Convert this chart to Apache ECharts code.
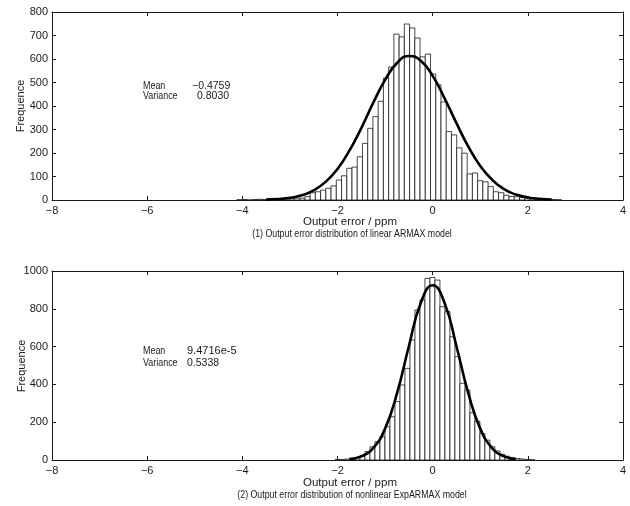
<!DOCTYPE html>
<html>
<head>
<meta charset="utf-8">
<script src="https://cdn.jsdelivr.net/npm/echarts@6/dist/echarts.min.js"></script>
<style>
  html, body { margin: 0; padding: 0; background: #fff; }
  #chart { width: 630px; height: 506px; }
</style>
</head>
<body>
<div id="chart"></div>
<script>
// 上图: 线性 ARMAX 模型输出误差直方图
const topBinStart = -4.06
const topBinWidth = 0.11
const topCounts = [
  1, 2, 0, 2, 3, 2, 4, 5, 4, 7, 6, 8,
  8, 14, 31, 35, 42, 50, 60, 85, 103, 135, 140, 184,
  241, 305, 355, 420, 519, 566, 706, 694, 749, 732, 689, 609,
  621, 536, 490, 417, 291, 277, 222, 199, 111, 115, 82, 77,
  57, 35, 31, 20, 15, 14, 10, 8, 6, 5, 3, 3, 2, 1
]
const topCurveX = [-3.5, -3.25, -3, -2.75, -2.5, -2.25, -2, -1.75, -1.5, -1.25, -1, -0.75, -0.5,
  -0.25, 0, 0.25, 0.5, 0.75, 1, 1.25, 1.5, 1.75, 2, 2.25, 2.5]
const topCurveY = [1.5, 4, 9, 20, 41, 77, 132, 210, 306, 413, 511, 583, 613,
  593, 528, 433, 327, 227, 145, 86, 46, 23, 11, 5, 2]

// 下图: 非线性 ExpARMAX 模型输出误差直方图
const botBinStart = -2.0
const botBinWidth = 0.105
const botCounts = [
  2, 3, 5, 8, 14, 22, 45, 70, 97, 123, 176, 229, 309, 397, 485, 635,
  794, 847, 961, 966, 952, 811, 785, 652, 547, 406, 370, 250, 205, 140,
  105, 70, 48, 30, 20, 12, 8, 5, 3, 1
]
const botCurveX = [-1.75, -1.5, -1.25, -1, -0.75, -0.5, -0.25, 0, 0.25, 0.5, 0.75, 1, 1.25, 1.5, 1.75]
const botCurveY = [5, 19, 63, 166, 352, 602, 831, 925, 831, 602, 352, 166, 63, 19, 5]

const xTicksMin = -8
const xTicksMax = 4

const font = 'Liberation Sans, Arial, sans-serif'
const ink = '#1a1a1a'

const toPairs = (start, width, counts) => counts.map((v, i) => [start + i * width, v])
const zip = (xs, ys) => xs.map((x, i) => [x, ys[i]])

const barRenderer = (width) => (params, api) => {
  const c = api.value(0)
  const v = api.value(1)
  const p0 = api.coord([c - width / 2, v])
  const p1 = api.coord([c + width / 2, 0])
  return {
    type: 'rect',
    shape: { x: p0[0], y: p0[1], width: p1[0] - p0[0], height: p1[1] - p0[1] },
    style: { fill: '#fff', stroke: ink, lineWidth: 0.8 }
  }
}

const minus = (v) => String(v).replace('-', '\u2212')

const axisLine = { show: true, onZero: false, lineStyle: { color: ink, width: 1 } }
const tick = { show: true, inside: true, length: 4, lineStyle: { color: ink } }
const label = { color: ink, fontFamily: font, fontSize: 11 }

const mainX = (gi) => ({
  type: 'value', gridIndex: gi, min: xTicksMin, max: xTicksMax, interval: 2,
  axisLine, axisTick: tick, splitLine: { show: false },
  axisLabel: { ...label, margin: 5, formatter: minus }
})
const mirrorX = (gi) => ({
  type: 'value', gridIndex: gi, position: 'top', min: xTicksMin, max: xTicksMax, interval: 2,
  axisLine, axisTick: tick, splitLine: { show: false }, axisLabel: { show: false }
})
const mainY = (gi, max, interval) => ({
  type: 'value', gridIndex: gi, min: 0, max, interval,
  axisLine, axisTick: tick, splitLine: { show: false },
  axisLabel: { ...label, margin: 4, formatter: (v) => String(v) }
})
const mirrorY = (gi, max, interval) => ({
  type: 'value', gridIndex: gi, position: 'right', min: 0, max, interval,
  axisLine, axisTick: tick, splitLine: { show: false }, axisLabel: { show: false }
})

const txt = (x, y, text, size, align, sx) => ({
  type: 'text', x, y, scaleX: sx || 1,
  style: { text, fill: ink, font: size + 'px ' + font, textAlign: align || 'left', textVerticalAlign: 'middle' }
})
const vtxt = (x, y, text) => ({
  type: 'text', x, y, rotation: Math.PI / 2,
  style: { text, fill: ink, font: '11px ' + font, textAlign: 'center', textVerticalAlign: 'middle' }
})

const chart = echarts.init(document.getElementById('chart'))

chart.setOption({
  animation: false,
  backgroundColor: '#fff',
  grid: [
    { left: 52, top: 12, width: 571, height: 188, outerBoundsMode: 'none', containLabel: false },
    { left: 52, top: 271, width: 571, height: 189, outerBoundsMode: 'none', containLabel: false }
  ],
  xAxis: [mainX(0), mirrorX(0), mainX(1), mirrorX(1)],
  yAxis: [mainY(0, 800, 100), mirrorY(0, 800, 100), mainY(1, 1000, 200), mirrorY(1, 1000, 200)],
  series: [
    {
      type: 'custom', xAxisIndex: 0, yAxisIndex: 0,
      renderItem: barRenderer(topBinWidth),
      encode: { x: 0, y: 1 },
      data: toPairs(topBinStart, topBinWidth, topCounts),
      z: 2
    },
    {
      type: 'line', xAxisIndex: 0, yAxisIndex: 0,
      data: zip(topCurveX, topCurveY), smooth: true, showSymbol: false,
      lineStyle: { color: '#000', width: 2.6 }, z: 5
    },
    {
      type: 'custom', xAxisIndex: 2, yAxisIndex: 2,
      renderItem: barRenderer(botBinWidth),
      encode: { x: 0, y: 1 },
      data: toPairs(botBinStart, botBinWidth, botCounts),
      z: 2
    },
    {
      type: 'line', xAxisIndex: 2, yAxisIndex: 2,
      data: zip(botCurveX, botCurveY), smooth: true, showSymbol: false,
      lineStyle: { color: '#000', width: 2.6 }, z: 5
    }
  ],
  graphic: [
    vtxt(21, 106, 'Frequence'),
    vtxt(22, 366, 'Frequence'),
    txt(143, 86, 'Mean', 10.5, 'left', 0.85),
    txt(192, 86, '\u22120.4759', 10.5),
    txt(143, 96, 'Variance', 10.5, 'left', 0.85),
    txt(197, 96, '0.8030', 10.5),
    txt(350, 222, 'Output error / ppm', 11.5, 'center'),
    txt(352, 234, '(1) Output error distribution of linear ARMAX model', 11, 'center', 0.8),
    txt(143, 351, 'Mean', 10.5, 'left', 0.85),
    txt(187, 351, '9.4716e-5', 11),
    txt(143, 363, 'Variance', 10.5, 'left', 0.85),
    txt(187, 363, '0.5338', 10.5),
    txt(350, 483, 'Output error / ppm', 11.5, 'center'),
    txt(352, 495, '(2) Output error distribution of nonlinear ExpARMAX model', 11, 'center', 0.8)
  ]
})
</script>
</body>
</html>
